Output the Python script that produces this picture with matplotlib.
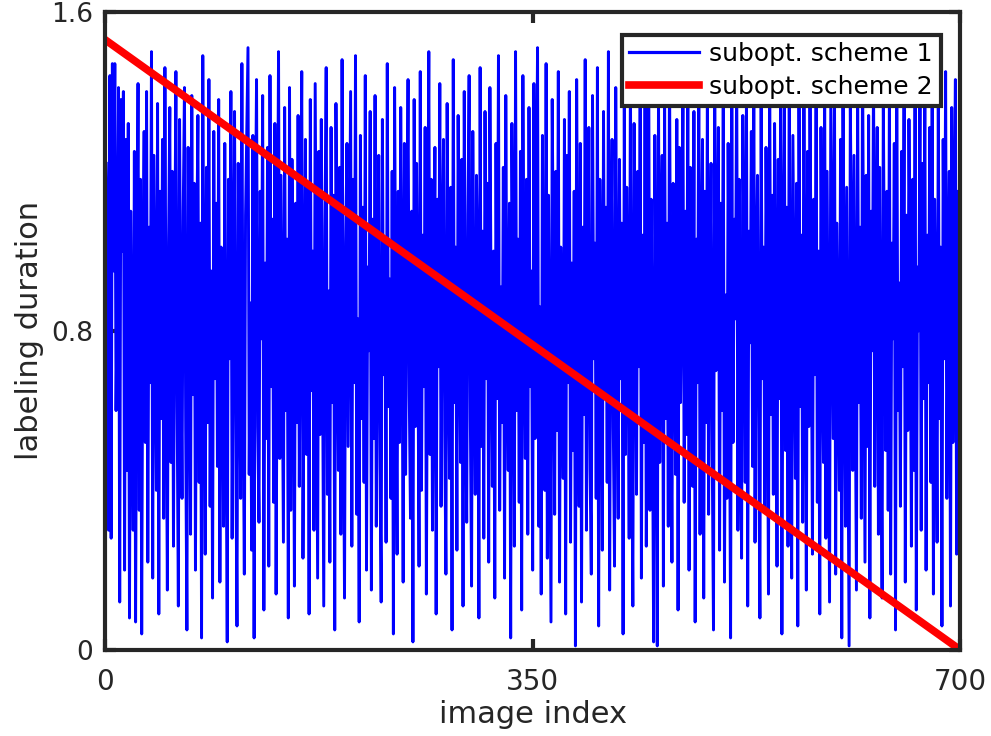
import matplotlib
matplotlib.use("Agg")
from matplotlib import pyplot as plt
import numpy as np

# labeling duration per image, subopt. scheme 1 (hundredths)
scheme1 = [
    122, 105, 30, 144, 28, 147, 95, 147, 60, 90, 141, 12, 138, 100, 140, 20, 128, 45, 132, 8, 110, 75, 30, 125, 7,
    88, 142, 35, 118, 4, 96, 130, 52, 140, 22, 106, 67, 150, 18, 124, 83, 40, 137, 9, 115, 58, 128, 33, 146, 71,
    15, 102, 136, 47, 120, 26, 93, 145, 61, 11, 133, 79, 38, 110, 141, 55, 5, 126, 88, 29, 139, 64, 117, 20, 98,
    134, 42, 107, 3, 149, 76, 24, 121, 57, 143, 36, 95, 13, 130, 68, 112, 46, 138, 17, 101, 84, 31, 127, 59, 2,
    118, 73, 140, 28, 91, 135, 50, 6, 122, 82, 38, 147, 63, 19, 109, 131, 151, 44, 87, 25, 129, 3, 104, 143, 56,
    32, 115, 78, 139, 10, 97, 53, 126, 21, 144, 66, 108, 37, 132, 14, 89, 150, 48, 119, 72, 27, 136, 60, 103, 8,
    141, 35, 123, 85, 16, 112, 57, 134, 41, 98, 145, 23, 79, 128, 49, 117, 9, 138, 65, 100, 30, 142, 81, 18, 125,
    54, 133, 74, 11, 106, 146, 39, 90, 22, 131, 62, 114, 5, 137, 86, 45, 121, 29, 148, 70, 13, 102, 127, 51, 94,
    140, 26, 118, 67, 149, 34, 83, 7, 129, 58, 111, 42, 144, 20, 96, 75, 135, 15, 108, 53, 139, 31, 87, 124, 46,
    12, 133, 69, 103, 27, 147, 61, 93, 38, 120, 4, 141, 77, 24, 115, 52, 136, 88, 17, 127, 44, 99, 143, 64, 33,
    110, 2, 138, 56, 122, 81, 21, 145, 40, 104, 66, 131, 14, 92, 150, 49, 118, 30, 84, 126, 9, 113, 71, 142, 36,
    97, 128, 55, 19, 137, 79, 43, 116, 5, 148, 62, 101, 25, 134, 87, 47, 123, 11, 140, 70, 32, 109, 144, 58, 16,
    130, 76, 39, 119, 94, 8, 146, 51, 105, 28, 135, 68, 117, 22, 141, 85, 41, 100, 13, 127, 63, 149, 35, 91, 57,
    121, 18, 139, 74, 45, 112, 3, 132, 89, 26, 150, 60, 103, 37, 125, 10, 144, 81, 48, 118, 29, 136, 66, 95, 20,
    142, 53, 108, 151, 31, 86, 14, 129, 72, 40, 147, 23, 114, 61, 7, 138, 92, 34, 120, 55, 145, 17, 101, 78, 43,
    133, 9, 124, 67, 140, 27, 97, 50, 115, 1, 143, 82, 36, 127, 12, 106, 59, 148, 30, 88, 131, 45, 19, 139, 73,
    102, 38, 146, 6, 118, 84, 25, 135, 63, 111, 42, 150, 15, 94, 128, 56, 21, 141, 77, 33, 123, 68, 107, 4, 137,
    49, 116, 87, 28, 145, 60, 11, 132, 96, 39, 120, 71, 143, 18, 104, 52, 136, 26, 90, 147, 35, 113, 64, 2, 129,
    80, 1, 140, 47, 99, 124, 16, 138, 58, 107, 31, 149, 73, 22, 117, 85, 44, 133, 10, 126, 62, 95, 141, 37, 110,
    54, 144, 20, 121, 79, 41, 135, 7, 103, 67, 150, 29, 92, 128, 13, 115, 57, 139, 34, 86, 122, 48, 5, 146, 70,
    98, 131, 25, 112, 60, 143, 17, 89, 38, 127, 74, 3, 137, 52, 108, 83, 148, 30, 118, 65, 23, 134, 96, 42, 141,
    11, 105, 77, 130, 46, 149, 27, 93, 119, 55, 8, 140, 68, 101, 35, 126, 82, 14, 145, 59, 114, 39, 132, 88, 21,
    123, 63, 142, 4, 97, 136, 50, 111, 26, 147, 72, 18, 129, 85, 43, 117, 6, 139, 61, 104, 32, 150, 76, 15, 125,
    56, 138, 90, 24, 113, 69, 145, 37, 100, 9, 131, 80, 47, 142, 28, 120, 66, 12, 136, 94, 53, 148, 19, 107, 74,
    40, 128, 3, 144, 84, 31, 116, 58, 1, 137, 99, 45, 124, 70, 15, 141, 62, 106, 33, 150, 87, 22, 119, 51, 134,
    8, 110, 75, 146, 41, 97, 131, 29, 121, 64, 13, 139, 86, 50, 115, 35, 143, 19, 102, 78, 127, 5, 148, 60, 92,
    36, 125, 71, 140, 17, 109, 55, 133, 89, 26, 118, 45, 150, 10, 96, 80, 137, 30, 122, 63, 144, 20, 104, 67, 131,
    42, 147, 14, 113, 85, 27, 139, 58, 101, 6, 128, 73, 145, 38, 91, 120, 11, 136, 52, 107, 143, 24, 115, 68, 130,
]
scheme1 = np.array(scheme1) / 100.0
idx1 = np.arange(1, len(scheme1) + 1)

# subopt. scheme 2: straight line
idx2 = [0, 700]
scheme2 = [1.53, 0.0]

xticks = [0, 350, 700]
yticks = [0, 0.8, 1.6]
yticklabels = ['0', '0.8', '1.6']

fig = plt.figure(figsize=(9.91, 7.36), dpi=100)
ax = fig.add_axes([0.106, 0.117, 0.863, 0.867])

ax.plot(idx1, scheme1, color='#0000ff', lw=2.1, label='subopt. scheme 1')
ax.plot(idx2, scheme2, color='#ff0000', lw=5.5, label='subopt. scheme 2')

ax.set_xlim(0, 700)
ax.set_ylim(0, 1.6)
ax.set_xticks(xticks)
ax.set_yticks(yticks)
ax.set_yticklabels(yticklabels)

for s in ax.spines.values():
    s.set_linewidth(3)
    s.set_color('#262626')

ax.tick_params(direction='in', length=8, width=3, top=True, right=True,
               color='#262626', labelcolor='#262626')
ax.tick_params(axis='x', labelsize=20, pad=13)
ax.tick_params(axis='y', labelsize=19, pad=8.5)

ax.set_xlabel('image index', fontsize=22, color='#262626', labelpad=3)
ax.set_ylabel('labeling duration', fontsize=22, color='#262626', labelpad=5)

leg = ax.legend(loc='upper right', bbox_to_anchor=(0.977, 0.964), borderaxespad=0,
                fontsize=18, fancybox=False, framealpha=1, handlelength=2.8,
                handletextpad=0.4, labelspacing=0.35, borderpad=0.3)
leg.get_frame().set_edgecolor('#262626')
leg.get_frame().set_linewidth(3)
leg.get_lines()[0].set_linewidth(2.3)

fig.savefig('out.png', dpi=100)
